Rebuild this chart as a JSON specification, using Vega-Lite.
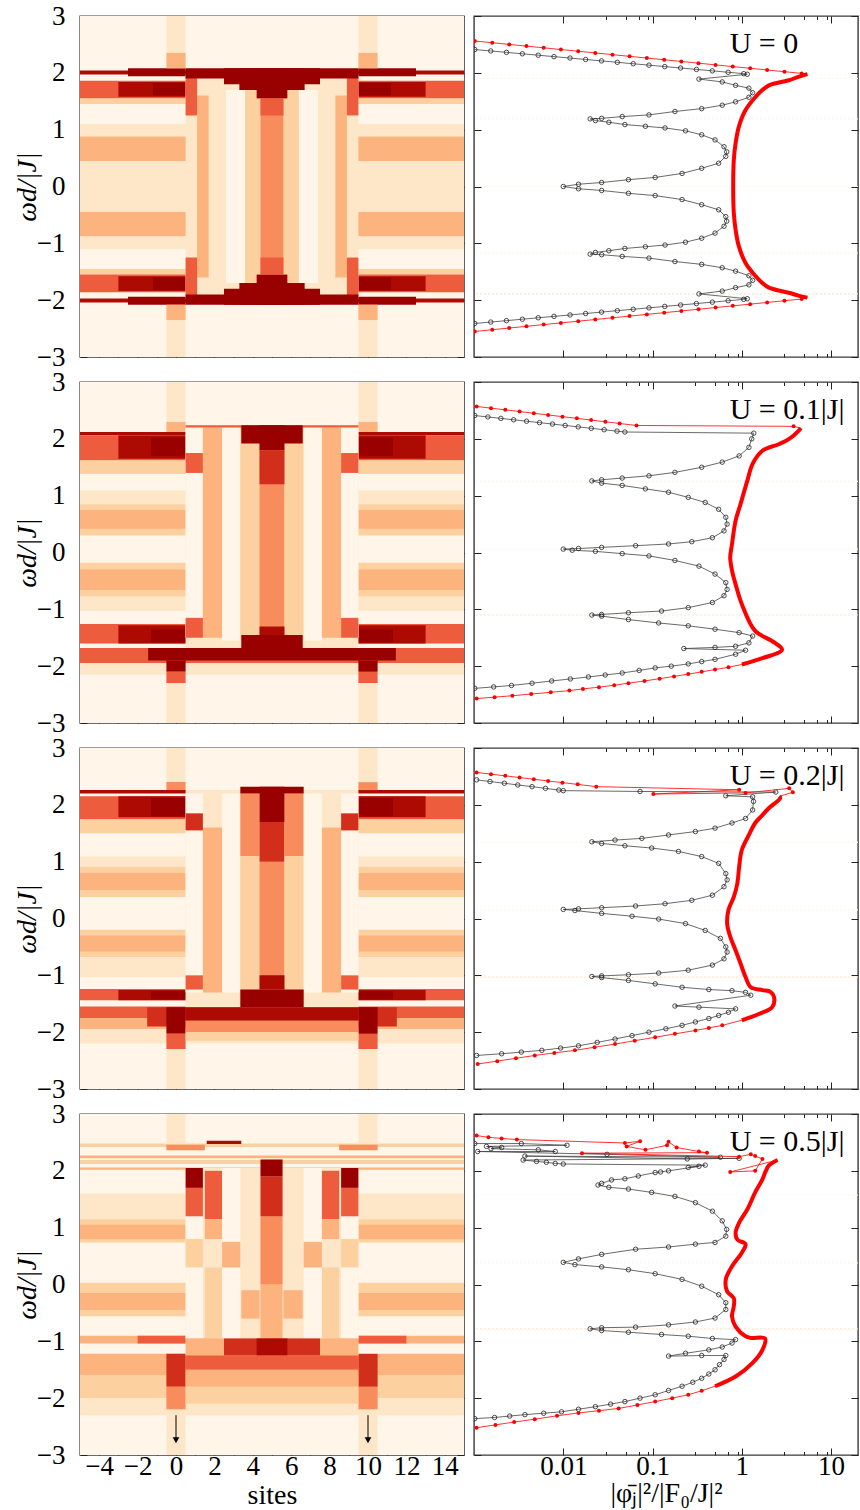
{
"$schema": "https://vega.github.io/schema/vega-lite/v6.json",
"background": "white",
"padding": {"left": 12, "top": 1, "right": 0, "bottom": 0},
"config": {
  "view": {"stroke": "#3a3a3a", "strokeWidth": 1.4},
  "axis": {"domain": false, "grid": false, "labels": false, "labelOverlap": false, "labelFlush": false, "tickColor": "#222", "tickWidth": 1, "tickSize": -7, "labelFont": "Liberation Serif", "labelFontSize": 27, "labelColor": "#000", "titleFont": "Liberation Serif", "titleFontSize": 28, "titleFontWeight": "normal", "titleColor": "#000"},
  "axisBottom": {"labelPadding": 5},
  "axisLeft": {"labelPadding": 22}
},
"datasets": {
"h1": [
{"s0":-5,"s1":15,"w0":-3,"w1":3,"v":0},
{"s0":-5,"s1":15,"w0":1.97,"w1":2.04,"v":7},
{"s0":-5,"s1":15,"w0":1.55,"w1":1.86,"v":5},
{"s0":-5,"s1":15,"w0":1.45,"w1":1.55,"v":2},
{"s0":-5,"s1":15,"w0":0.88,"w1":1.1,"v":1},
{"s0":-5,"s1":15,"w0":0.45,"w1":0.88,"v":3},
{"s0":-5,"s1":15,"w0":-0.45,"w1":0.45,"v":1},
{"s0":-5,"s1":15,"w0":-0.88,"w1":-0.45,"v":3},
{"s0":-5,"s1":15,"w0":-1.1,"w1":-0.88,"v":1},
{"s0":-5,"s1":15,"w0":-1.55,"w1":-1.45,"v":2},
{"s0":-5,"s1":15,"w0":-1.86,"w1":-1.55,"v":5},
{"s0":-5,"s1":15,"w0":-2.04,"w1":-1.97,"v":7},
{"s0":-3,"s1":0.5,"w0":1.58,"w1":1.84,"v":7},
{"s0":9.5,"s1":13,"w0":1.58,"w1":1.84,"v":7},
{"s0":-3,"s1":0.5,"w0":-1.84,"w1":-1.58,"v":7},
{"s0":9.5,"s1":13,"w0":-1.84,"w1":-1.58,"v":7},
{"s0":-1.2,"s1":0.5,"w0":1.6,"w1":1.82,"v":8},
{"s0":9.5,"s1":11.2,"w0":1.6,"w1":1.82,"v":8},
{"s0":-1.2,"s1":0.5,"w0":-1.82,"w1":-1.6,"v":8},
{"s0":9.5,"s1":11.2,"w0":-1.82,"w1":-1.6,"v":8},
{"s0":-2.5,"s1":0.5,"w0":1.94,"w1":2.08,"v":8},
{"s0":9.5,"s1":12.5,"w0":1.94,"w1":2.08,"v":8},
{"s0":-2.5,"s1":0.5,"w0":-2.08,"w1":-1.94,"v":8},
{"s0":9.5,"s1":12.5,"w0":-2.08,"w1":-1.94,"v":8},
{"s0":-0.5,"s1":0.5,"w0":2.08,"w1":2.35,"v":3},
{"s0":9.5,"s1":10.5,"w0":2.08,"w1":2.35,"v":3},
{"s0":-0.5,"s1":0.5,"w0":-2.35,"w1":-2.08,"v":3},
{"s0":9.5,"s1":10.5,"w0":-2.35,"w1":-2.08,"v":3},
{"s0":-0.5,"s1":0.5,"w0":2.35,"w1":3,"v":1},
{"s0":9.5,"s1":10.5,"w0":2.35,"w1":3,"v":1},
{"s0":-0.5,"s1":0.5,"w0":-3,"w1":-2.35,"v":1},
{"s0":9.5,"s1":10.5,"w0":-3,"w1":-2.35,"v":1},
{"s0":0.5,"s1":9.5,"w0":-1.94,"w1":1.94,"v":1},
{"s0":1.1,"s1":1.7,"w0":-1.6,"w1":1.6,"v":3},
{"s0":2.6,"s1":3.6,"w0":-1.7,"w1":1.7,"v":0},
{"s0":3.6,"s1":4.4,"w0":-1.7,"w1":1.7,"v":2},
{"s0":4.4,"s1":5.6,"w0":-1.7,"w1":1.7,"v":4},
{"s0":5.6,"s1":6.4,"w0":-1.7,"w1":1.7,"v":2},
{"s0":6.4,"s1":7.4,"w0":-1.7,"w1":1.7,"v":0},
{"s0":8.3,"s1":8.9,"w0":-1.6,"w1":1.6,"v":3},
{"s0":0.5,"s1":1.1,"w0":1.25,"w1":1.94,"v":5},
{"s0":8.9,"s1":9.5,"w0":1.25,"w1":1.94,"v":5},
{"s0":0.5,"s1":1.1,"w0":-1.94,"w1":-1.25,"v":5},
{"s0":8.9,"s1":9.5,"w0":-1.94,"w1":-1.25,"v":5},
{"s0":0.5,"s1":9.5,"w0":1.9,"w1":2.08,"v":8},
{"s0":2.5,"s1":7.5,"w0":1.8,"w1":2.08,"v":8},
{"s0":3.3,"s1":6.7,"w0":1.7,"w1":2.08,"v":8},
{"s0":4.2,"s1":5.8,"w0":1.55,"w1":2.08,"v":8},
{"s0":4.4,"s1":5.6,"w0":1.25,"w1":1.55,"v":5},
{"s0":0.5,"s1":9.5,"w0":-2.08,"w1":-1.9,"v":8},
{"s0":2.5,"s1":7.5,"w0":-2.08,"w1":-1.8,"v":8},
{"s0":3.3,"s1":6.7,"w0":-2.08,"w1":-1.7,"v":8},
{"s0":4.2,"s1":5.8,"w0":-2.08,"w1":-1.55,"v":8},
{"s0":4.4,"s1":5.6,"w0":-1.55,"w1":-1.25,"v":5}
],
"h2": [
{"s0":-5,"s1":15,"w0":-3,"w1":3,"v":0},
{"s0":-5,"s1":15,"w0":2.06,"w1":2.12,"v":7},
{"s0":-5,"s1":15,"w0":1.62,"w1":2.06,"v":5},
{"s0":-5,"s1":15,"w0":1.38,"w1":1.62,"v":2},
{"s0":-5,"s1":15,"w0":0.85,"w1":1.09,"v":1},
{"s0":-5,"s1":15,"w0":0.3,"w1":0.85,"v":2},
{"s0":-5,"s1":15,"w0":0.42,"w1":0.75,"v":3},
{"s0":-5,"s1":15,"w0":-0.78,"w1":-0.18,"v":2},
{"s0":-5,"s1":15,"w0":-0.66,"w1":-0.3,"v":3},
{"s0":-5,"s1":15,"w0":-1.03,"w1":-0.78,"v":1},
{"s0":-5,"s1":15,"w0":-1.6,"w1":-1.26,"v":5},
{"s0":-5,"s1":15,"w0":-1.95,"w1":-1.68,"v":5},
{"s0":-5,"s1":15,"w0":-2.15,"w1":-1.95,"v":1},
{"s0":-3,"s1":0.5,"w0":1.65,"w1":2.06,"v":7},
{"s0":9.5,"s1":13,"w0":1.65,"w1":2.06,"v":7},
{"s0":-1.3,"s1":0.5,"w0":1.7,"w1":2.02,"v":8},
{"s0":9.5,"s1":11.3,"w0":1.7,"w1":2.02,"v":8},
{"s0":-3,"s1":0.5,"w0":-1.6,"w1":-1.28,"v":7},
{"s0":9.5,"s1":13,"w0":-1.6,"w1":-1.28,"v":7},
{"s0":-1.3,"s1":0.5,"w0":-1.58,"w1":-1.35,"v":8},
{"s0":9.5,"s1":11.3,"w0":-1.58,"w1":-1.35,"v":8},
{"s0":-1.45,"s1":11.45,"w0":-1.9,"w1":-1.68,"v":8},
{"s0":-0.5,"s1":0.5,"w0":-2.1,"w1":-1.9,"v":8},
{"s0":9.5,"s1":10.5,"w0":-2.1,"w1":-1.9,"v":8},
{"s0":-0.5,"s1":0.5,"w0":-2.3,"w1":-2.1,"v":5},
{"s0":9.5,"s1":10.5,"w0":-2.3,"w1":-2.1,"v":5},
{"s0":-0.5,"s1":0.5,"w0":-3,"w1":-2.3,"v":1},
{"s0":9.5,"s1":10.5,"w0":-3,"w1":-2.3,"v":1},
{"s0":-0.5,"s1":0.5,"w0":2.12,"w1":2.3,"v":3},
{"s0":9.5,"s1":10.5,"w0":2.12,"w1":2.3,"v":3},
{"s0":-0.5,"s1":0.5,"w0":2.3,"w1":3,"v":1},
{"s0":9.5,"s1":10.5,"w0":2.3,"w1":3,"v":1},
{"s0":0.5,"s1":9.5,"w0":-1.68,"w1":2.24,"v":1},
{"s0":0.5,"s1":1.4,"w0":-1.5,"w1":2.2,"v":0},
{"s0":1.4,"s1":2.4,"w0":-1.5,"w1":2.2,"v":3},
{"s0":2.4,"s1":3.35,"w0":-1.55,"w1":2.2,"v":0},
{"s0":3.35,"s1":4.35,"w0":-1.55,"w1":2.2,"v":2},
{"s0":4.35,"s1":5.65,"w0":-1.55,"w1":2.2,"v":4},
{"s0":5.65,"s1":6.65,"w0":-1.55,"w1":2.2,"v":2},
{"s0":6.65,"s1":7.6,"w0":-1.55,"w1":2.2,"v":0},
{"s0":7.6,"s1":8.6,"w0":-1.5,"w1":2.2,"v":3},
{"s0":8.6,"s1":9.5,"w0":-1.5,"w1":2.2,"v":0},
{"s0":0.5,"s1":1.4,"w0":1.4,"w1":1.75,"v":5},
{"s0":8.6,"s1":9.5,"w0":1.4,"w1":1.75,"v":5},
{"s0":0.5,"s1":1.4,"w0":-1.5,"w1":-1.15,"v":5},
{"s0":8.6,"s1":9.5,"w0":-1.5,"w1":-1.15,"v":5},
{"s0":0.5,"s1":9.5,"w0":2.2,"w1":2.24,"v":5},
{"s0":3.4,"s1":6.6,"w0":1.92,"w1":2.24,"v":8},
{"s0":4.35,"s1":5.65,"w0":1.8,"w1":2.24,"v":8},
{"s0":4.35,"s1":5.65,"w0":1.2,"w1":1.8,"v":6},
{"s0":3.4,"s1":6.6,"w0":-1.68,"w1":-1.45,"v":8},
{"s0":4.35,"s1":5.65,"w0":-1.45,"w1":-1.3,"v":7}
],
"h3": [
{"s0":-5,"s1":15,"w0":-3,"w1":3,"v":0},
{"s0":-5,"s1":15,"w0":2.2,"w1":2.26,"v":7},
{"s0":-5,"s1":15,"w0":1.74,"w1":2.15,"v":5},
{"s0":-5,"s1":15,"w0":1.5,"w1":1.74,"v":2},
{"s0":-5,"s1":15,"w0":0.91,"w1":1.09,"v":1},
{"s0":-5,"s1":15,"w0":0.38,"w1":0.91,"v":2},
{"s0":-5,"s1":15,"w0":0.5,"w1":0.8,"v":3},
{"s0":-5,"s1":15,"w0":-0.68,"w1":-0.2,"v":2},
{"s0":-5,"s1":15,"w0":-0.58,"w1":-0.3,"v":3},
{"s0":-5,"s1":15,"w0":-1.03,"w1":-0.68,"v":1},
{"s0":-5,"s1":15,"w0":-1.44,"w1":-1.24,"v":5},
{"s0":-5,"s1":15,"w0":-1.75,"w1":-1.55,"v":5},
{"s0":-5,"s1":15,"w0":-1.95,"w1":-1.75,"v":3},
{"s0":-5,"s1":15,"w0":-2.2,"w1":-1.95,"v":1},
{"s0":-3,"s1":0.5,"w0":1.78,"w1":2.15,"v":7},
{"s0":9.5,"s1":13,"w0":1.78,"w1":2.15,"v":7},
{"s0":-1.3,"s1":0.5,"w0":1.8,"w1":2.12,"v":8},
{"s0":9.5,"s1":11.3,"w0":1.8,"w1":2.12,"v":8},
{"s0":-3,"s1":0.5,"w0":-1.44,"w1":-1.26,"v":7},
{"s0":9.5,"s1":13,"w0":-1.44,"w1":-1.26,"v":7},
{"s0":-1.3,"s1":0.5,"w0":-1.42,"w1":-1.28,"v":8},
{"s0":9.5,"s1":11.3,"w0":-1.42,"w1":-1.28,"v":8},
{"s0":-1.5,"s1":0.5,"w0":-1.9,"w1":-1.56,"v":6},
{"s0":9.5,"s1":11.5,"w0":-1.9,"w1":-1.56,"v":6},
{"s0":-0.5,"s1":0.5,"w0":-2.03,"w1":-1.56,"v":8},
{"s0":9.5,"s1":10.5,"w0":-2.03,"w1":-1.56,"v":8},
{"s0":-0.5,"s1":0.5,"w0":-2.3,"w1":-2.03,"v":5},
{"s0":9.5,"s1":10.5,"w0":-2.3,"w1":-2.03,"v":5},
{"s0":-0.5,"s1":0.5,"w0":-3,"w1":-2.3,"v":1},
{"s0":9.5,"s1":10.5,"w0":-3,"w1":-2.3,"v":1},
{"s0":-0.5,"s1":0.5,"w0":2.26,"w1":2.4,"v":4},
{"s0":9.5,"s1":10.5,"w0":2.26,"w1":2.4,"v":4},
{"s0":-0.5,"s1":0.5,"w0":2.4,"w1":3,"v":1},
{"s0":9.5,"s1":10.5,"w0":2.4,"w1":3,"v":1},
{"s0":0.5,"s1":9.5,"w0":-1.56,"w1":2.26,"v":1},
{"s0":0.5,"s1":1.4,"w0":-1.3,"w1":2.2,"v":0},
{"s0":1.4,"s1":2.4,"w0":-1.3,"w1":1.6,"v":3},
{"s0":2.4,"s1":3.35,"w0":-1.3,"w1":2.2,"v":0},
{"s0":3.35,"s1":4.35,"w0":-1.3,"w1":1.1,"v":2},
{"s0":3.35,"s1":4.35,"w0":1.1,"w1":2.2,"v":4},
{"s0":4.35,"s1":5.65,"w0":-1.3,"w1":1.0,"v":4},
{"s0":4.35,"s1":5.65,"w0":1.0,"w1":1.7,"v":6},
{"s0":5.65,"s1":6.65,"w0":-1.3,"w1":1.1,"v":2},
{"s0":5.65,"s1":6.65,"w0":1.1,"w1":2.2,"v":4},
{"s0":6.65,"s1":7.6,"w0":-1.3,"w1":2.2,"v":0},
{"s0":7.6,"s1":8.6,"w0":-1.3,"w1":1.6,"v":3},
{"s0":8.6,"s1":9.5,"w0":-1.3,"w1":2.2,"v":0},
{"s0":0.5,"s1":1.4,"w0":1.55,"w1":1.85,"v":6},
{"s0":8.6,"s1":9.5,"w0":1.55,"w1":1.85,"v":6},
{"s0":0.5,"s1":1.4,"w0":-1.25,"w1":-1.0,"v":5},
{"s0":8.6,"s1":9.5,"w0":-1.25,"w1":-1.0,"v":5},
{"s0":4.35,"s1":5.65,"w0":1.7,"w1":2.32,"v":8},
{"s0":3.35,"s1":6.65,"w0":2.2,"w1":2.32,"v":8},
{"s0":3.35,"s1":6.65,"w0":-1.56,"w1":-1.25,"v":8},
{"s0":4.35,"s1":5.65,"w0":-1.25,"w1":-1.0,"v":7},
{"s0":0.5,"s1":9.5,"w0":-1.8,"w1":-1.56,"v":7},
{"s0":0.5,"s1":9.5,"w0":-2.0,"w1":-1.8,"v":4},
{"s0":0.5,"s1":9.5,"w0":-2.15,"w1":-2.0,"v":2}
],
"h4": [
{"s0":-5,"s1":15,"w0":-3,"w1":3,"v":0},
{"s0":-5,"s1":15,"w0":2.42,"w1":2.48,"v":2},
{"s0":-5,"s1":15,"w0":2.22,"w1":2.27,"v":3},
{"s0":-5,"s1":15,"w0":2.12,"w1":2.19,"v":2},
{"s0":-5,"s1":15,"w0":2.02,"w1":2.06,"v":3},
{"s0":-5,"s1":15,"w0":1.15,"w1":1.6,"v":1},
{"s0":-5,"s1":15,"w0":0.74,"w1":1.15,"v":2},
{"s0":-5,"s1":15,"w0":0.8,"w1":1.05,"v":3},
{"s0":-5,"s1":15,"w0":-0.56,"w1":0.03,"v":2},
{"s0":-5,"s1":15,"w0":-0.45,"w1":-0.15,"v":3},
{"s0":-5,"s1":15,"w0":-1.04,"w1":-0.9,"v":3},
{"s0":-5,"s1":15,"w0":-1.6,"w1":-1.22,"v":3},
{"s0":-5,"s1":15,"w0":-2.0,"w1":-1.6,"v":2},
{"s0":-5,"s1":15,"w0":-2.3,"w1":-2.0,"v":1},
{"s0":-2,"s1":0.5,"w0":-1.04,"w1":-0.9,"v":5},
{"s0":9.5,"s1":12,"w0":-1.04,"w1":-0.9,"v":5},
{"s0":-0.5,"s1":0.5,"w0":-1.8,"w1":-1.22,"v":6},
{"s0":9.5,"s1":10.5,"w0":-1.8,"w1":-1.22,"v":6},
{"s0":-0.5,"s1":0.5,"w0":-2.2,"w1":-1.8,"v":4},
{"s0":9.5,"s1":10.5,"w0":-2.2,"w1":-1.8,"v":4},
{"s0":-0.5,"s1":0.5,"w0":-3,"w1":-2.2,"v":1},
{"s0":9.5,"s1":10.5,"w0":-3,"w1":-2.2,"v":1},
{"s0":-0.5,"s1":0.5,"w0":2.48,"w1":3,"v":1},
{"s0":9.5,"s1":10.5,"w0":2.48,"w1":3,"v":1},
{"s0":-0.5,"s1":1.5,"w0":2.36,"w1":2.46,"v":4},
{"s0":8.5,"s1":10.5,"w0":2.36,"w1":2.46,"v":4},
{"s0":1.6,"s1":3.4,"w0":2.47,"w1":2.53,"v":7},
{"s0":0.5,"s1":9.5,"w0":-0.95,"w1":2.05,"v":1},
{"s0":0.5,"s1":1.4,"w0":-0.95,"w1":1.7,"v":0},
{"s0":0.5,"s1":1.4,"w0":1.7,"w1":2.05,"v":8},
{"s0":0.5,"s1":1.4,"w0":1.2,"w1":1.7,"v":5},
{"s0":0.5,"s1":1.4,"w0":0.3,"w1":0.8,"v":2},
{"s0":1.5,"s1":2.4,"w0":1.15,"w1":2.0,"v":5},
{"s0":1.5,"s1":2.4,"w0":0.8,"w1":1.15,"v":3},
{"s0":1.5,"s1":2.4,"w0":-0.95,"w1":0.3,"v":2},
{"s0":2.4,"s1":3.35,"w0":-0.95,"w1":2.05,"v":0},
{"s0":2.4,"s1":3.35,"w0":0.3,"w1":0.75,"v":3},
{"s0":3.4,"s1":4.35,"w0":-0.6,"w1":-0.1,"v":3},
{"s0":4.4,"s1":5.55,"w0":-0.95,"w1":0.0,"v":3},
{"s0":4.4,"s1":5.55,"w0":0.0,"w1":1.2,"v":4},
{"s0":4.4,"s1":5.55,"w0":1.2,"w1":1.9,"v":6},
{"s0":4.4,"s1":5.55,"w0":1.9,"w1":2.2,"v":8},
{"s0":5.6,"s1":6.6,"w0":-0.6,"w1":-0.1,"v":3},
{"s0":6.65,"s1":7.6,"w0":-0.95,"w1":2.05,"v":0},
{"s0":6.65,"s1":7.6,"w0":0.3,"w1":0.75,"v":3},
{"s0":7.6,"s1":8.5,"w0":1.15,"w1":2.0,"v":5},
{"s0":7.6,"s1":8.5,"w0":0.8,"w1":1.15,"v":3},
{"s0":7.6,"s1":8.5,"w0":-0.95,"w1":0.3,"v":2},
{"s0":8.6,"s1":9.5,"w0":-0.95,"w1":1.7,"v":0},
{"s0":8.6,"s1":9.5,"w0":1.7,"w1":2.05,"v":8},
{"s0":8.6,"s1":9.5,"w0":1.2,"w1":1.7,"v":5},
{"s0":8.6,"s1":9.5,"w0":0.3,"w1":0.8,"v":2},
{"s0":0.5,"s1":9.5,"w0":-1.25,"w1":-0.95,"v":3},
{"s0":2.5,"s1":7.5,"w0":-1.25,"w1":-0.95,"v":6},
{"s0":4.2,"s1":5.8,"w0":-1.25,"w1":-0.95,"v":7},
{"s0":0.5,"s1":9.5,"w0":-1.5,"w1":-1.25,"v":5},
{"s0":0.5,"s1":9.5,"w0":-1.8,"w1":-1.5,"v":3},
{"s0":0.5,"s1":9.5,"w0":-2.1,"w1":-1.8,"v":2}
],
"k1": [{"w":2.41,"x":0.00102},{"w":2.385,"x":0.00154},{"w":2.36,"x":0.00231},{"w":2.335,"x":0.00348},{"w":2.31,"x":0.00524},{"w":2.285,"x":0.00787},{"w":2.26,"x":0.0119},{"w":2.235,"x":0.0178},{"w":2.21,"x":0.0268},{"w":2.185,"x":0.0403},{"w":2.16,"x":0.0607},{"w":2.135,"x":0.0912},{"w":2.11,"x":0.137},{"w":2.085,"x":0.206},{"w":2.06,"x":0.31},{"w":2.035,"x":0.467},{"w":2.01,"x":0.702},{"w":1.985,"x":1.05},{"w":1.975,"x":1.15},{"w":1.89,"x":0.331},{"w":1.84,"x":0.603},{"w":1.78,"x":0.851},{"w":1.73,"x":1.2},{"w":1.65,"x":1.32},{"w":1.57,"x":1.2},{"w":1.49,"x":0.851},{"w":1.43,"x":0.603},{"w":1.37,"x":0.355},{"w":1.32,"x":0.178},{"w":1.26,"x":0.0912},{"w":1.23,"x":0.0457},{"w":1.2,"x":0.0269},{"w":1.19,"x":0.02},{"w":1.16,"x":0.0229},{"w":1.13,"x":0.0324},{"w":1.09,"x":0.049},{"w":1.06,"x":0.0832},{"w":1.03,"x":0.138},{"w":0.98,"x":0.234},{"w":0.91,"x":0.355},{"w":0.82,"x":0.501},{"w":0.7,"x":0.631},{"w":0.61,"x":0.676},{"w":0.53,"x":0.661},{"w":0.41,"x":0.55},{"w":0.32,"x":0.355},{"w":0.23,"x":0.214},{"w":0.16,"x":0.107},{"w":0.12,"x":0.0537},{"w":0.07,"x":0.0269},{"w":0.04,"x":0.0148},{"w":0,"x":0.01},{"w":-0.04,"x":0.0148},{"w":-0.07,"x":0.0269},{"w":-0.12,"x":0.0537},{"w":-0.16,"x":0.107},{"w":-0.23,"x":0.214},{"w":-0.32,"x":0.355},{"w":-0.41,"x":0.55},{"w":-0.53,"x":0.661},{"w":-0.61,"x":0.676},{"w":-0.7,"x":0.631},{"w":-0.82,"x":0.501},{"w":-0.91,"x":0.355},{"w":-0.98,"x":0.234},{"w":-1.03,"x":0.138},{"w":-1.06,"x":0.0832},{"w":-1.09,"x":0.049},{"w":-1.13,"x":0.0324},{"w":-1.16,"x":0.0229},{"w":-1.19,"x":0.02},{"w":-1.2,"x":0.0269},{"w":-1.23,"x":0.0457},{"w":-1.26,"x":0.0912},{"w":-1.32,"x":0.178},{"w":-1.37,"x":0.355},{"w":-1.43,"x":0.603},{"w":-1.49,"x":0.851},{"w":-1.57,"x":1.2},{"w":-1.65,"x":1.32},{"w":-1.73,"x":1.2},{"w":-1.78,"x":0.851},{"w":-1.84,"x":0.603},{"w":-1.89,"x":0.331},{"w":-1.975,"x":1.15},{"w":-1.985,"x":1.05},{"w":-2.01,"x":0.702},{"w":-2.035,"x":0.467},{"w":-2.06,"x":0.31},{"w":-2.085,"x":0.206},{"w":-2.11,"x":0.137},{"w":-2.135,"x":0.0912},{"w":-2.16,"x":0.0607},{"w":-2.185,"x":0.0403},{"w":-2.21,"x":0.0268},{"w":-2.235,"x":0.0178},{"w":-2.26,"x":0.0119},{"w":-2.285,"x":0.00787},{"w":-2.31,"x":0.00524},{"w":-2.335,"x":0.00348},{"w":-2.36,"x":0.00231},{"w":-2.385,"x":0.00154},{"w":-2.41,"x":0.00102}],
"r1": [{"w":2.56,"x":0.00102},{"w":2.53,"x":0.0016},{"w":2.5,"x":0.00248},{"w":2.47,"x":0.00387},{"w":2.44,"x":0.00603},{"w":2.41,"x":0.0094},{"w":2.38,"x":0.0147},{"w":2.35,"x":0.0228},{"w":2.32,"x":0.0356},{"w":2.29,"x":0.0553},{"w":2.26,"x":0.0863},{"w":2.23,"x":0.135},{"w":2.2,"x":0.21},{"w":2.17,"x":0.327},{"w":2.14,"x":0.508},{"w":2.11,"x":0.792},{"w":2.08,"x":1.24},{"w":2.05,"x":1.92},{"w":2.02,"x":3.0},{"w":1.99,"x":4.68},{"w":1.977,"x":5.42,"b":1},{"w":1.93,"x":4.3,"b":1},{"w":1.87,"x":3.37,"b":1},{"w":1.78,"x":2.01,"b":1},{"w":1.68,"x":1.65,"b":1},{"w":1.58,"x":1.43,"b":1},{"w":1.345,"x":1.1,"b":1},{"w":1.05,"x":0.925,"b":1},{"w":0.76,"x":0.851,"b":1},{"w":0.47,"x":0.813,"b":1},{"w":0,"x":0.8,"b":1},{"w":-0.47,"x":0.813,"b":1},{"w":-0.76,"x":0.851,"b":1},{"w":-1.05,"x":0.925,"b":1},{"w":-1.345,"x":1.1,"b":1},{"w":-1.58,"x":1.43,"b":1},{"w":-1.68,"x":1.65,"b":1},{"w":-1.78,"x":2.01,"b":1},{"w":-1.87,"x":3.37,"b":1},{"w":-1.92,"x":4.3,"b":1},{"w":-1.955,"x":5.42,"b":1},{"w":-1.98,"x":4.68},{"w":-2.01,"x":3.0},{"w":-2.04,"x":1.92},{"w":-2.07,"x":1.24},{"w":-2.1,"x":0.792},{"w":-2.13,"x":0.508},{"w":-2.16,"x":0.327},{"w":-2.19,"x":0.21},{"w":-2.22,"x":0.135},{"w":-2.25,"x":0.0863},{"w":-2.28,"x":0.0553},{"w":-2.31,"x":0.0356},{"w":-2.34,"x":0.0228},{"w":-2.37,"x":0.0147},{"w":-2.4,"x":0.0094},{"w":-2.43,"x":0.00603},{"w":-2.46,"x":0.00387},{"w":-2.49,"x":0.00248},{"w":-2.52,"x":0.0016},{"w":-2.55,"x":0.00102}],
"d1": [{"w":1.9,"t":"a"},{"w":1.19,"t":"a"},{"w":0,"t":"a"},{"w":-1.17,"t":"a"},{"w":-1.89,"t":"b"}],
"k2": [{"w":2.41,"x":0.00102},{"w":2.385,"x":0.00143},{"w":2.36,"x":0.002},{"w":2.335,"x":0.00278},{"w":2.31,"x":0.00388},{"w":2.285,"x":0.00542},{"w":2.26,"x":0.00757},{"w":2.235,"x":0.0105},{"w":2.21,"x":0.0147},{"w":2.185,"x":0.0206},{"w":2.16,"x":0.0287},{"w":2.135,"x":0.04},{"w":2.12,"x":0.049},{"w":2.1,"x":1.36},{"w":2.0,"x":1.29},{"w":1.85,"x":1.2},{"w":1.7,"x":0.933},{"w":1.59,"x":0.603},{"w":1.5,"x":0.355},{"w":1.41,"x":0.178},{"w":1.35,"x":0.0912},{"w":1.31,"x":0.0457},{"w":1.28,"x":0.0269},{"w":1.26,"x":0.0209},{"w":1.22,"x":0.0269},{"w":1.18,"x":0.0457},{"w":1.12,"x":0.0832},{"w":1.06,"x":0.151},{"w":0.97,"x":0.251},{"w":0.88,"x":0.389},{"w":0.76,"x":0.55},{"w":0.62,"x":0.661},{"w":0.5,"x":0.684},{"w":0.38,"x":0.631},{"w":0.26,"x":0.468},{"w":0.19,"x":0.275},{"w":0.15,"x":0.151},{"w":0.12,"x":0.0646},{"w":0.09,"x":0.0269},{"w":0.07,"x":0.0148},{"w":0.06,"x":0.01},{"w":0.04,"x":0.0126},{"w":0.02,"x":0.0229},{"w":-0.02,"x":0.0457},{"w":-0.06,"x":0.0912},{"w":-0.14,"x":0.178},{"w":-0.24,"x":0.331},{"w":-0.38,"x":0.501},{"w":-0.53,"x":0.661},{"w":-0.65,"x":0.684},{"w":-0.76,"x":0.631},{"w":-0.88,"x":0.468},{"w":-0.97,"x":0.251},{"w":-1.03,"x":0.126},{"w":-1.06,"x":0.0537},{"w":-1.09,"x":0.0269},{"w":-1.1,"x":0.0209},{"w":-1.12,"x":0.0269},{"w":-1.18,"x":0.0537},{"w":-1.24,"x":0.117},{"w":-1.29,"x":0.251},{"w":-1.35,"x":0.501},{"w":-1.41,"x":0.933},{"w":-1.47,"x":1.32},{"w":-1.59,"x":1.2},{"w":-1.65,"x":0.851},{"w":-1.67,"x":0.501},{"w":-1.69,"x":0.224},{"w":-1.72,"x":1.1},{"w":-1.79,"x":0.851},{"w":-1.88,"x":0.501},{"w":-1.92,"x":0.355},{"w":-1.96,"x":0.251},{"w":-2.0,"x":0.162},{"w":-2.03,"x":0.107},{"w":-2.075,"x":0.0708},{"w":-2.12,"x":0.0457},{"w":-2.155,"x":0.0295},{"w":-2.19,"x":0.0191},{"w":-2.225,"x":0.012},{"w":-2.26,"x":0.00741},{"w":-2.3,"x":0.00447},{"w":-2.34,"x":0.00263},{"w":-2.365,"x":0.00166},{"w":-2.39,"x":0.00102}],
"r2": [{"w":2.57,"x":0.00107},{"w":2.54,"x":0.00155},{"w":2.51,"x":0.00224},{"w":2.48,"x":0.00324},{"w":2.45,"x":0.00468},{"w":2.42,"x":0.00676},{"w":2.39,"x":0.0098},{"w":2.36,"x":0.0142},{"w":2.33,"x":0.0205},{"w":2.3,"x":0.0296},{"w":2.27,"x":0.0428},{"w":2.235,"x":0.0661},{"w":2.22,"x":3.8},{"w":2.19,"x":4.57,"b":1},{"w":2.15,"x":4.37,"b":1},{"w":2.0,"x":3.39,"b":1},{"w":1.91,"x":2.63,"b":1},{"w":1.79,"x":1.7,"b":1},{"w":1.56,"x":1.32,"b":1},{"w":1.26,"x":1.15,"b":1},{"w":0.85,"x":0.966,"b":1},{"w":0.56,"x":0.851,"b":1},{"w":0.15,"x":0.776,"b":1},{"w":-0.09,"x":0.741,"b":1},{"w":-0.32,"x":0.776,"b":1},{"w":-0.56,"x":0.851,"b":1},{"w":-0.91,"x":1.0,"b":1},{"w":-1.38,"x":1.41,"b":1},{"w":-1.56,"x":2.19,"b":1},{"w":-1.71,"x":2.82,"b":1},{"w":-1.86,"x":1.7,"b":1},{"w":-1.97,"x":1.0,"b":1},{"w":-2.02,"x":0.708},{"w":-2.06,"x":0.501},{"w":-2.1,"x":0.355},{"w":-2.14,"x":0.251},{"w":-2.18,"x":0.174},{"w":-2.22,"x":0.12},{"w":-2.26,"x":0.0813},{"w":-2.3,"x":0.0537},{"w":-2.335,"x":0.0372},{"w":-2.37,"x":0.0251},{"w":-2.4,"x":0.0166},{"w":-2.43,"x":0.0117},{"w":-2.46,"x":0.00724},{"w":-2.49,"x":0.00437},{"w":-2.52,"x":0.00269},{"w":-2.545,"x":0.0017},{"w":-2.57,"x":0.00107}],
"d2": [{"w":1.25,"t":"a"},{"w":0.06,"t":"a"},{"w":-1.1,"t":"b"}],
"k3": [{"w":2.44,"x":0.00107},{"w":2.41,"x":0.00151},{"w":2.38,"x":0.00219},{"w":2.35,"x":0.00309},{"w":2.32,"x":0.00447},{"w":2.29,"x":0.00631},{"w":2.26,"x":0.00891},{"w":2.25,"x":0.01},{"w":2.235,"x":0.0724},{"w":2.225,"x":2.4},{"w":2.16,"x":0.661},{"w":2.14,"x":1.32},{"w":2.06,"x":1.35},{"w":1.91,"x":1.32},{"w":1.76,"x":1.1},{"w":1.68,"x":0.776},{"w":1.59,"x":0.501},{"w":1.53,"x":0.302},{"w":1.47,"x":0.151},{"w":1.41,"x":0.0759},{"w":1.38,"x":0.038},{"w":1.35,"x":0.0209},{"w":1.32,"x":0.0269},{"w":1.28,"x":0.049},{"w":1.24,"x":0.0977},{"w":1.18,"x":0.195},{"w":1.09,"x":0.355},{"w":0.97,"x":0.55},{"w":0.79,"x":0.661},{"w":0.68,"x":0.684},{"w":0.56,"x":0.631},{"w":0.41,"x":0.468},{"w":0.32,"x":0.275},{"w":0.26,"x":0.138},{"w":0.22,"x":0.0646},{"w":0.19,"x":0.0269},{"w":0.17,"x":0.0148},{"w":0.16,"x":0.01},{"w":0.14,"x":0.0135},{"w":0.09,"x":0.0269},{"w":0.04,"x":0.0589},{"w":-0.01,"x":0.117},{"w":-0.09,"x":0.234},{"w":-0.21,"x":0.389},{"w":-0.35,"x":0.575},{"w":-0.5,"x":0.661},{"w":-0.59,"x":0.684},{"w":-0.71,"x":0.631},{"w":-0.82,"x":0.468},{"w":-0.91,"x":0.251},{"w":-0.96,"x":0.117},{"w":-0.99,"x":0.0537},{"w":-1.01,"x":0.0269},{"w":-1.02,"x":0.0209},{"w":-1.04,"x":0.0269},{"w":-1.09,"x":0.0537},{"w":-1.15,"x":0.107},{"w":-1.21,"x":0.214},{"w":-1.25,"x":0.427},{"w":-1.27,"x":0.776},{"w":-1.3,"x":1.1},{"w":-1.35,"x":1.26},{"w":-1.54,"x":0.178},{"w":-1.56,"x":0.331},{"w":-1.59,"x":0.851},{"w":-1.65,"x":0.708},{"w":-1.705,"x":0.55},{"w":-1.76,"x":0.427},{"w":-1.82,"x":0.302},{"w":-1.88,"x":0.214},{"w":-1.94,"x":0.141},{"w":-2.0,"x":0.0912},{"w":-2.06,"x":0.0589},{"w":-2.12,"x":0.038},{"w":-2.18,"x":0.024},{"w":-2.24,"x":0.0148},{"w":-2.28,"x":0.00933},{"w":-2.32,"x":0.00575},{"w":-2.35,"x":0.00339},{"w":-2.38,"x":0.00204},{"w":-2.41,"x":0.00107}],
"r3": [{"w":2.57,"x":0.00107},{"w":2.54,"x":0.00155},{"w":2.51,"x":0.00224},{"w":2.48,"x":0.00324},{"w":2.45,"x":0.00468},{"w":2.42,"x":0.00676},{"w":2.39,"x":0.0098},{"w":2.36,"x":0.0145},{"w":2.32,"x":0.0234},{"w":2.265,"x":0.933},{"w":2.19,"x":0.102},{"w":2.21,"x":1.1},{"w":2.29,"x":3.39},{"w":2.22,"x":3.72},{"w":2.15,"x":2.63,"b":1},{"w":2.12,"x":2.69,"b":1},{"w":1.94,"x":2.0,"b":1},{"w":1.82,"x":1.7,"b":1},{"w":1.68,"x":1.41,"b":1},{"w":1.47,"x":1.2,"b":1},{"w":1.21,"x":1.0,"b":1},{"w":0.91,"x":0.933,"b":1},{"w":0.62,"x":0.891,"b":1},{"w":0.38,"x":0.813,"b":1},{"w":0.15,"x":0.708,"b":1},{"w":-0.09,"x":0.684,"b":1},{"w":-0.32,"x":0.741,"b":1},{"w":-0.56,"x":0.851,"b":1},{"w":-0.79,"x":0.966,"b":1},{"w":-1.03,"x":1.1,"b":1},{"w":-1.21,"x":1.26,"b":1},{"w":-1.26,"x":1.7,"b":1},{"w":-1.29,"x":2.09,"b":1},{"w":-1.38,"x":2.29,"b":1},{"w":-1.56,"x":2.19,"b":1},{"w":-1.68,"x":1.55,"b":1},{"w":-1.79,"x":1.0,"b":1},{"w":-1.88,"x":0.603},{"w":-1.925,"x":0.427},{"w":-1.97,"x":0.302},{"w":-2.03,"x":0.178},{"w":-2.09,"x":0.107},{"w":-2.15,"x":0.0631},{"w":-2.21,"x":0.038},{"w":-2.265,"x":0.0224},{"w":-2.32,"x":0.0135},{"w":-2.365,"x":0.00794},{"w":-2.41,"x":0.00479},{"w":-2.46,"x":0.00295},{"w":-2.51,"x":0.00182},{"w":-2.56,"x":0.0011}],
"d3": [{"w":1.34,"t":"a"},{"w":0.15,"t":"a"},{"w":-1.03,"t":"b"}],
"k4": [{"w":2.48,"x":0.00102},{"w":2.48,"x":0.00339},{"w":2.45,"x":0.011},{"w":2.43,"x":0.00138},{"w":2.41,"x":0.00204},{"w":2.39,"x":0.00155},{"w":2.37,"x":0.00525},{"w":2.34,"x":0.00813},{"w":2.34,"x":0.0011},{"w":2.29,"x":0.0309},{"w":2.24,"x":0.575},{"w":2.26,"x":0.00372},{"w":2.21,"x":0.245},{"w":2.22,"x":0.933},{"w":2.19,"x":0.00355},{"w":2.165,"x":0.00501},{"w":2.15,"x":0.00646},{"w":2.13,"x":0.00813},{"w":2.12,"x":0.01},{"w":2.1,"x":0.389},{"w":2.06,"x":0.251},{"w":2.08,"x":0.331},{"w":2.0,"x":0.151},{"w":1.98,"x":0.123},{"w":1.97,"x":0.107},{"w":1.91,"x":0.0692},{"w":1.86,"x":0.049},{"w":1.84,"x":0.0347},{"w":1.78,"x":0.0269},{"w":1.75,"x":0.0245},{"w":1.71,"x":0.0324},{"w":1.68,"x":0.0537},{"w":1.62,"x":0.0977},{"w":1.55,"x":0.178},{"w":1.44,"x":0.302},{"w":1.29,"x":0.468},{"w":1.12,"x":0.603},{"w":0.97,"x":0.676},{"w":0.85,"x":0.661},{"w":0.74,"x":0.501},{"w":0.71,"x":0.302},{"w":0.66,"x":0.151},{"w":0.62,"x":0.0646},{"w":0.53,"x":0.0269},{"w":0.45,"x":0.0148},{"w":0.39,"x":0.01},{"w":0.35,"x":0.0135},{"w":0.31,"x":0.0269},{"w":0.26,"x":0.0537},{"w":0.19,"x":0.107},{"w":0.09,"x":0.214},{"w":-0.03,"x":0.355},{"w":-0.18,"x":0.55},{"w":-0.32,"x":0.661},{"w":-0.44,"x":0.661},{"w":-0.59,"x":0.501},{"w":-0.66,"x":0.302},{"w":-0.71,"x":0.151},{"w":-0.75,"x":0.0646},{"w":-0.76,"x":0.0269},{"w":-0.78,"x":0.02},{"w":-0.81,"x":0.0269},{"w":-0.84,"x":0.0537},{"w":-0.88,"x":0.126},{"w":-0.91,"x":0.251},{"w":-0.95,"x":0.468},{"w":-0.97,"x":0.851},{"w":-1.03,"x":0.776},{"w":-1.1,"x":0.603},{"w":-1.15,"x":0.427},{"w":-1.21,"x":0.234},{"w":-1.26,"x":0.151},{"w":-1.25,"x":0.355},{"w":-1.25,"x":0.661},{"w":-1.32,"x":0.631},{"w":-1.41,"x":0.562},{"w":-1.5,"x":0.501},{"w":-1.575,"x":0.427},{"w":-1.65,"x":0.355},{"w":-1.72,"x":0.282},{"w":-1.79,"x":0.214},{"w":-1.865,"x":0.151},{"w":-1.94,"x":0.107},{"w":-2.0,"x":0.0724},{"w":-2.06,"x":0.049},{"w":-2.105,"x":0.0339},{"w":-2.15,"x":0.0229},{"w":-2.195,"x":0.0148},{"w":-2.24,"x":0.00955},{"w":-2.265,"x":0.00603},{"w":-2.29,"x":0.00372},{"w":-2.315,"x":0.00251},{"w":-2.34,"x":0.0017},{"w":-2.36,"x":0.00102}],
"r4": [{"w":2.62,"x":0.00107},{"w":2.59,"x":0.00145},{"w":2.57,"x":0.00204},{"w":2.55,"x":0.00302},{"w":2.49,"x":0.049},{"w":2.52,"x":0.0724},{"w":2.43,"x":0.0513},{"w":2.37,"x":0.0832},{"w":2.45,"x":0.145},{"w":2.51,"x":0.151},{"w":2.41,"x":0.186},{"w":2.34,"x":0.331},{"w":2.32,"x":0.407},{"w":2.31,"x":0.0162},{"w":2.25,"x":0.933},{"w":2.29,"x":1.26},{"w":2.26,"x":1.41},{"w":2.21,"x":1.7},{"w":2.0,"x":1.41},{"w":1.98,"x":0.741},{"w":2.19,"x":2.51,"b":1},{"w":2.09,"x":2.0,"b":1},{"w":2.0,"x":1.86,"b":1},{"w":1.97,"x":1.82,"b":1},{"w":1.85,"x":1.7,"b":1},{"w":1.62,"x":1.41,"b":1},{"w":1.32,"x":1.15,"b":1},{"w":1.09,"x":0.933,"b":1},{"w":0.91,"x":0.851,"b":1},{"w":0.79,"x":0.891,"b":1},{"w":0.71,"x":1.1,"b":1},{"w":0.56,"x":1.0,"b":1},{"w":0.32,"x":0.776,"b":1},{"w":0.09,"x":0.661,"b":1},{"w":-0.12,"x":0.684,"b":1},{"w":-0.24,"x":0.813,"b":1},{"w":-0.38,"x":0.813,"b":1},{"w":-0.56,"x":0.776,"b":1},{"w":-0.74,"x":0.851,"b":1},{"w":-0.91,"x":1.1,"b":1},{"w":-0.94,"x":1.26,"b":1},{"w":-0.95,"x":1.82,"b":1},{"w":-1.15,"x":1.7,"b":1},{"w":-1.38,"x":1.32,"b":1},{"w":-1.62,"x":0.851,"b":1},{"w":-1.79,"x":0.501,"b":1},{"w":-1.87,"x":0.355},{"w":-1.94,"x":0.251},{"w":-2.0,"x":0.166},{"w":-2.06,"x":0.107},{"w":-2.12,"x":0.0676},{"w":-2.18,"x":0.0417},{"w":-2.22,"x":0.0251},{"w":-2.26,"x":0.0148},{"w":-2.31,"x":0.00851},{"w":-2.37,"x":0.00479},{"w":-2.42,"x":0.00282},{"w":-2.47,"x":0.00174},{"w":-2.52,"x":0.00107}],
"d4": [{"w":1.57,"t":"a"},{"w":0.38,"t":"a"},{"w":-0.78,"t":"b"}]
},
"spacing": -4,
"vconcat": [
{"spacing": 10, "bounds": "flush", "hconcat": [
 {"width": 384, "height": 341, "data": {"name": "h1"},
  "layer": [
   {"mark": {"type": "rect", "clip": true},
    "encoding": {
     "x": {"field": "s0", "type": "quantitative", "scale": {"domain": [-5, 15], "nice": false}, "axis": {"orient": "bottom", "values": [-4,-3,-2,-1,0,1,2,3,4,5,6,7,8,9,10,11,12,13,14], "title": null}},
     "x2": {"field": "s1"},
     "y": {"field": "w0", "type": "quantitative", "scale": {"domain": [-3, 3], "nice": false}, "axis": {"orient": "left", "values": [-3,-2,-1,0,1,2,3], "labels": true, "title": "ωd/|J|", "titleFontStyle": "italic", "titlePadding": -5}},
     "y2": {"field": "w1"},
     "color": {"field": "v", "type": "ordinal", "scale": {"domain": [0,1,2,3,4,5,6,7,8], "range": ["#fff5e9","#fee6c8","#fdd09f","#fcb37d","#f98c5c","#ec5c3d","#d12e1c","#ad0a04","#990000"]}, "legend": null}}},
   {"mark": {"type": "point", "opacity": 0},
    "encoding": {
     "x": {"field": "s0", "type": "quantitative", "scale": {"domain": [-5, 15], "nice": false}, "axis": {"orient": "top", "values": [-4,-3,-2,-1,0,1,2,3,4,5,6,7,8,9,10,11,12,13,14], "title": null}},
     "y": {"field": "w0", "type": "quantitative", "scale": {"domain": [-3, 3], "nice": false}, "axis": {"orient": "right", "values": [-3,-2,-1,0,1,2,3], "title": null}}}}
  ],
  "resolve": {"axis": {"x": "independent", "y": "independent"}}},
 {"width": 384, "height": 341,
  "layer": [
   {"data": {"name": "d1"}, "mark": {"type": "rule", "strokeDash": [2, 2], "strokeWidth": 1.2},
    "encoding": {"y": {"field": "w", "type": "quantitative", "scale": {"domain": [-3, 3], "nice": false}, "axis": null},
     "color": {"field": "t", "type": "nominal", "scale": {"domain": ["a", "b"], "range": ["#1f1fff", "#111111"]}, "legend": null}}},
   {"data": {"name": "k1"}, "mark": {"type": "line", "color": "#444", "strokeWidth": 0.8, "clip": true},
    "encoding": {"x": {"field": "x", "type": "quantitative", "scale": {"type": "log", "domain": [0.001, 20], "nice": false}, "axis": {"orient": "bottom", "values": [0.01, 0.1, 1, 10], "title": null}},
     "y": {"field": "w", "type": "quantitative", "scale": {"domain": [-3, 3], "nice": false}, "axis": {"orient": "left", "values": [-3,-2,-1,0,1,2,3], "title": null}},
     "order": {"value": null}}},
   {"data": {"name": "k1"}, "mark": {"type": "point", "filled": false, "color": "#222", "strokeWidth": 0.8, "size": 20, "opacity": 1, "clip": true},
    "encoding": {"x": {"field": "x", "type": "quantitative", "scale": {"type": "log", "domain": [0.001, 20], "nice": false}, "axis": {"orient": "top", "values": [0.01, 0.1, 1, 10], "title": null}},
     "y": {"field": "w", "type": "quantitative", "scale": {"domain": [-3, 3], "nice": false}, "axis": {"orient": "right", "values": [-3,-2,-1,0,1,2,3], "title": null}}}},
   {"data": {"name": "r1"}, "mark": {"type": "line", "color": "#ff0000", "strokeWidth": 0.8, "clip": true},
    "encoding": {"x": {"field": "x", "type": "quantitative", "scale": {"type": "log", "domain": [0.001, 20], "nice": false}, "axis": {"orient": "bottom", "values": [0.03,0.05,0.07,0.09,0.3,0.5,0.7,0.9,3,5,7,9], "tickSize": -3.5, "title": null}},
     "y": {"field": "w", "type": "quantitative", "scale": {"domain": [-3, 3], "nice": false}, "axis": null},
     "order": {"value": null}}},
   {"data": {"name": "r1"}, "transform": [{"filter": "datum.b == 1"}], "mark": {"type": "line", "color": "#ff0000", "strokeWidth": 4, "interpolate": "catmull-rom", "clip": true},
    "encoding": {"x": {"field": "x", "type": "quantitative", "scale": {"type": "log", "domain": [0.001, 20], "nice": false}, "axis": {"orient": "top", "values": [0.03,0.05,0.07,0.09,0.3,0.5,0.7,0.9,3,5,7,9], "tickSize": -3.5, "title": null}},
     "y": {"field": "w", "type": "quantitative", "scale": {"domain": [-3, 3], "nice": false}, "axis": null},
     "order": {"value": null}}},
   {"data": {"name": "r1"}, "transform": [{"filter": "datum.b != 1"}], "mark": {"type": "point", "filled": true, "color": "#ff0000", "size": 16, "opacity": 1, "clip": true},
    "encoding": {"x": {"field": "x", "type": "quantitative", "scale": {"type": "log", "domain": [0.001, 20], "nice": false}, "axis": null},
     "y": {"field": "w", "type": "quantitative", "scale": {"domain": [-3, 3], "nice": false}, "axis": null}}},
   {"data": {"values": [{}]}, "mark": {"type": "text", "font": "Liberation Serif", "fontSize": 30, "align": "left", "baseline": "alphabetic", "clip": true},
    "encoding": {"x": {"datum": 0.73, "type": "quantitative", "scale": {"type": "log", "domain": [0.001, 20], "nice": false}, "axis": null},
     "y": {"datum": 2.35, "type": "quantitative", "scale": {"domain": [-3, 3], "nice": false}, "axis": null},
     "text": {"value": "U = 0"}}}
  ],
  "resolve": {"axis": {"x": "independent", "y": "independent"}}}
]},
{"spacing": 10, "bounds": "flush", "hconcat": [
 {"width": 384, "height": 341, "data": {"name": "h2"},
  "layer": [
   {"mark": {"type": "rect", "clip": true},
    "encoding": {
     "x": {"field": "s0", "type": "quantitative", "scale": {"domain": [-5, 15], "nice": false}, "axis": {"orient": "bottom", "values": [-4,-3,-2,-1,0,1,2,3,4,5,6,7,8,9,10,11,12,13,14], "title": null}},
     "x2": {"field": "s1"},
     "y": {"field": "w0", "type": "quantitative", "scale": {"domain": [-3, 3], "nice": false}, "axis": {"orient": "left", "values": [-3,-2,-1,0,1,2,3], "labels": true, "title": "ωd/|J|", "titleFontStyle": "italic", "titlePadding": -5}},
     "y2": {"field": "w1"},
     "color": {"field": "v", "type": "ordinal", "scale": {"domain": [0,1,2,3,4,5,6,7,8], "range": ["#fff5e9","#fee6c8","#fdd09f","#fcb37d","#f98c5c","#ec5c3d","#d12e1c","#ad0a04","#990000"]}, "legend": null}}},
   {"mark": {"type": "point", "opacity": 0},
    "encoding": {
     "x": {"field": "s0", "type": "quantitative", "scale": {"domain": [-5, 15], "nice": false}, "axis": {"orient": "top", "values": [-4,-3,-2,-1,0,1,2,3,4,5,6,7,8,9,10,11,12,13,14], "title": null}},
     "y": {"field": "w0", "type": "quantitative", "scale": {"domain": [-3, 3], "nice": false}, "axis": {"orient": "right", "values": [-3,-2,-1,0,1,2,3], "title": null}}}}
  ],
  "resolve": {"axis": {"x": "independent", "y": "independent"}}},
 {"width": 384, "height": 341,
  "layer": [
   {"data": {"name": "d2"}, "mark": {"type": "rule", "strokeDash": [2, 2], "strokeWidth": 1.2},
    "encoding": {"y": {"field": "w", "type": "quantitative", "scale": {"domain": [-3, 3], "nice": false}, "axis": null},
     "color": {"field": "t", "type": "nominal", "scale": {"domain": ["a", "b"], "range": ["#1f1fff", "#111111"]}, "legend": null}}},
   {"data": {"name": "k2"}, "mark": {"type": "line", "color": "#444", "strokeWidth": 0.8, "clip": true},
    "encoding": {"x": {"field": "x", "type": "quantitative", "scale": {"type": "log", "domain": [0.001, 20], "nice": false}, "axis": {"orient": "bottom", "values": [0.01, 0.1, 1, 10], "title": null}},
     "y": {"field": "w", "type": "quantitative", "scale": {"domain": [-3, 3], "nice": false}, "axis": {"orient": "left", "values": [-3,-2,-1,0,1,2,3], "title": null}},
     "order": {"value": null}}},
   {"data": {"name": "k2"}, "mark": {"type": "point", "filled": false, "color": "#222", "strokeWidth": 0.8, "size": 20, "opacity": 1, "clip": true},
    "encoding": {"x": {"field": "x", "type": "quantitative", "scale": {"type": "log", "domain": [0.001, 20], "nice": false}, "axis": {"orient": "top", "values": [0.01, 0.1, 1, 10], "title": null}},
     "y": {"field": "w", "type": "quantitative", "scale": {"domain": [-3, 3], "nice": false}, "axis": {"orient": "right", "values": [-3,-2,-1,0,1,2,3], "title": null}}}},
   {"data": {"name": "r2"}, "mark": {"type": "line", "color": "#ff0000", "strokeWidth": 0.8, "clip": true},
    "encoding": {"x": {"field": "x", "type": "quantitative", "scale": {"type": "log", "domain": [0.001, 20], "nice": false}, "axis": {"orient": "bottom", "values": [0.03,0.05,0.07,0.09,0.3,0.5,0.7,0.9,3,5,7,9], "tickSize": -3.5, "title": null}},
     "y": {"field": "w", "type": "quantitative", "scale": {"domain": [-3, 3], "nice": false}, "axis": null},
     "order": {"value": null}}},
   {"data": {"name": "r2"}, "transform": [{"filter": "datum.b == 1"}], "mark": {"type": "line", "color": "#ff0000", "strokeWidth": 4, "interpolate": "catmull-rom", "clip": true},
    "encoding": {"x": {"field": "x", "type": "quantitative", "scale": {"type": "log", "domain": [0.001, 20], "nice": false}, "axis": {"orient": "top", "values": [0.03,0.05,0.07,0.09,0.3,0.5,0.7,0.9,3,5,7,9], "tickSize": -3.5, "title": null}},
     "y": {"field": "w", "type": "quantitative", "scale": {"domain": [-3, 3], "nice": false}, "axis": null},
     "order": {"value": null}}},
   {"data": {"name": "r2"}, "transform": [{"filter": "datum.b != 1"}], "mark": {"type": "point", "filled": true, "color": "#ff0000", "size": 16, "opacity": 1, "clip": true},
    "encoding": {"x": {"field": "x", "type": "quantitative", "scale": {"type": "log", "domain": [0.001, 20], "nice": false}, "axis": null},
     "y": {"field": "w", "type": "quantitative", "scale": {"domain": [-3, 3], "nice": false}, "axis": null}}},
   {"data": {"values": [{}]}, "mark": {"type": "text", "font": "Liberation Serif", "fontSize": 30, "align": "left", "baseline": "alphabetic", "clip": true},
    "encoding": {"x": {"datum": 0.73, "type": "quantitative", "scale": {"type": "log", "domain": [0.001, 20], "nice": false}, "axis": null},
     "y": {"datum": 2.35, "type": "quantitative", "scale": {"domain": [-3, 3], "nice": false}, "axis": null},
     "text": {"value": "U = 0.1|J|"}}}
  ],
  "resolve": {"axis": {"x": "independent", "y": "independent"}}}
]},
{"spacing": 10, "bounds": "flush", "hconcat": [
 {"width": 384, "height": 341, "data": {"name": "h3"},
  "layer": [
   {"mark": {"type": "rect", "clip": true},
    "encoding": {
     "x": {"field": "s0", "type": "quantitative", "scale": {"domain": [-5, 15], "nice": false}, "axis": {"orient": "bottom", "values": [-4,-3,-2,-1,0,1,2,3,4,5,6,7,8,9,10,11,12,13,14], "title": null}},
     "x2": {"field": "s1"},
     "y": {"field": "w0", "type": "quantitative", "scale": {"domain": [-3, 3], "nice": false}, "axis": {"orient": "left", "values": [-3,-2,-1,0,1,2,3], "labels": true, "title": "ωd/|J|", "titleFontStyle": "italic", "titlePadding": -5}},
     "y2": {"field": "w1"},
     "color": {"field": "v", "type": "ordinal", "scale": {"domain": [0,1,2,3,4,5,6,7,8], "range": ["#fff5e9","#fee6c8","#fdd09f","#fcb37d","#f98c5c","#ec5c3d","#d12e1c","#ad0a04","#990000"]}, "legend": null}}},
   {"mark": {"type": "point", "opacity": 0},
    "encoding": {
     "x": {"field": "s0", "type": "quantitative", "scale": {"domain": [-5, 15], "nice": false}, "axis": {"orient": "top", "values": [-4,-3,-2,-1,0,1,2,3,4,5,6,7,8,9,10,11,12,13,14], "title": null}},
     "y": {"field": "w0", "type": "quantitative", "scale": {"domain": [-3, 3], "nice": false}, "axis": {"orient": "right", "values": [-3,-2,-1,0,1,2,3], "title": null}}}}
  ],
  "resolve": {"axis": {"x": "independent", "y": "independent"}}},
 {"width": 384, "height": 341,
  "layer": [
   {"data": {"name": "d3"}, "mark": {"type": "rule", "strokeDash": [2, 2], "strokeWidth": 1.2},
    "encoding": {"y": {"field": "w", "type": "quantitative", "scale": {"domain": [-3, 3], "nice": false}, "axis": null},
     "color": {"field": "t", "type": "nominal", "scale": {"domain": ["a", "b"], "range": ["#1f1fff", "#111111"]}, "legend": null}}},
   {"data": {"name": "k3"}, "mark": {"type": "line", "color": "#444", "strokeWidth": 0.8, "clip": true},
    "encoding": {"x": {"field": "x", "type": "quantitative", "scale": {"type": "log", "domain": [0.001, 20], "nice": false}, "axis": {"orient": "bottom", "values": [0.01, 0.1, 1, 10], "title": null}},
     "y": {"field": "w", "type": "quantitative", "scale": {"domain": [-3, 3], "nice": false}, "axis": {"orient": "left", "values": [-3,-2,-1,0,1,2,3], "title": null}},
     "order": {"value": null}}},
   {"data": {"name": "k3"}, "mark": {"type": "point", "filled": false, "color": "#222", "strokeWidth": 0.8, "size": 20, "opacity": 1, "clip": true},
    "encoding": {"x": {"field": "x", "type": "quantitative", "scale": {"type": "log", "domain": [0.001, 20], "nice": false}, "axis": {"orient": "top", "values": [0.01, 0.1, 1, 10], "title": null}},
     "y": {"field": "w", "type": "quantitative", "scale": {"domain": [-3, 3], "nice": false}, "axis": {"orient": "right", "values": [-3,-2,-1,0,1,2,3], "title": null}}}},
   {"data": {"name": "r3"}, "mark": {"type": "line", "color": "#ff0000", "strokeWidth": 0.8, "clip": true},
    "encoding": {"x": {"field": "x", "type": "quantitative", "scale": {"type": "log", "domain": [0.001, 20], "nice": false}, "axis": {"orient": "bottom", "values": [0.03,0.05,0.07,0.09,0.3,0.5,0.7,0.9,3,5,7,9], "tickSize": -3.5, "title": null}},
     "y": {"field": "w", "type": "quantitative", "scale": {"domain": [-3, 3], "nice": false}, "axis": null},
     "order": {"value": null}}},
   {"data": {"name": "r3"}, "transform": [{"filter": "datum.b == 1"}], "mark": {"type": "line", "color": "#ff0000", "strokeWidth": 4, "interpolate": "catmull-rom", "clip": true},
    "encoding": {"x": {"field": "x", "type": "quantitative", "scale": {"type": "log", "domain": [0.001, 20], "nice": false}, "axis": {"orient": "top", "values": [0.03,0.05,0.07,0.09,0.3,0.5,0.7,0.9,3,5,7,9], "tickSize": -3.5, "title": null}},
     "y": {"field": "w", "type": "quantitative", "scale": {"domain": [-3, 3], "nice": false}, "axis": null},
     "order": {"value": null}}},
   {"data": {"name": "r3"}, "transform": [{"filter": "datum.b != 1"}], "mark": {"type": "point", "filled": true, "color": "#ff0000", "size": 16, "opacity": 1, "clip": true},
    "encoding": {"x": {"field": "x", "type": "quantitative", "scale": {"type": "log", "domain": [0.001, 20], "nice": false}, "axis": null},
     "y": {"field": "w", "type": "quantitative", "scale": {"domain": [-3, 3], "nice": false}, "axis": null}}},
   {"data": {"values": [{}]}, "mark": {"type": "text", "font": "Liberation Serif", "fontSize": 30, "align": "left", "baseline": "alphabetic", "clip": true},
    "encoding": {"x": {"datum": 0.73, "type": "quantitative", "scale": {"type": "log", "domain": [0.001, 20], "nice": false}, "axis": null},
     "y": {"datum": 2.35, "type": "quantitative", "scale": {"domain": [-3, 3], "nice": false}, "axis": null},
     "text": {"value": "U = 0.2|J|"}}}
  ],
  "resolve": {"axis": {"x": "independent", "y": "independent"}}}
]},
{"spacing": 10, "bounds": "flush", "hconcat": [
 {"width": 384, "height": 341, "data": {"name": "h4"},
  "layer": [
   {"mark": {"type": "rect", "clip": true},
    "encoding": {
     "x": {"field": "s0", "type": "quantitative", "scale": {"domain": [-5, 15], "nice": false}, "axis": {"orient": "bottom", "values": [-4,-3,-2,-1,0,1,2,3,4,5,6,7,8,9,10,11,12,13,14], "labels": true, "labelExpr": "datum.value % 2 === 0 ? datum.label : ''", "title": "sites", "titlePadding": 2}},
     "x2": {"field": "s1"},
     "y": {"field": "w0", "type": "quantitative", "scale": {"domain": [-3, 3], "nice": false}, "axis": {"orient": "left", "values": [-3,-2,-1,0,1,2,3], "labels": true, "title": "ωd/|J|", "titleFontStyle": "italic", "titlePadding": -5}},
     "y2": {"field": "w1"},
     "color": {"field": "v", "type": "ordinal", "scale": {"domain": [0,1,2,3,4,5,6,7,8], "range": ["#fff5e9","#fee6c8","#fdd09f","#fcb37d","#f98c5c","#ec5c3d","#d12e1c","#ad0a04","#990000"]}, "legend": null}}},
   {"mark": {"type": "point", "opacity": 0},
    "encoding": {
     "x": {"field": "s0", "type": "quantitative", "scale": {"domain": [-5, 15], "nice": false}, "axis": {"orient": "top", "values": [-4,-3,-2,-1,0,1,2,3,4,5,6,7,8,9,10,11,12,13,14], "title": null}},
     "y": {"field": "w0", "type": "quantitative", "scale": {"domain": [-3, 3], "nice": false}, "axis": {"orient": "right", "values": [-3,-2,-1,0,1,2,3], "title": null}}}},
   {"data": {"values": [{"s": 0}, {"s": 10}]}, "mark": {"type": "rule", "color": "#000", "strokeWidth": 1},
    "encoding": {"x": {"field": "s", "type": "quantitative", "scale": {"domain": [-5, 15], "nice": false}, "axis": null},
     "y": {"datum": -2.3, "type": "quantitative", "scale": {"domain": [-3, 3], "nice": false}, "axis": null},
     "y2": {"datum": -2.74}}},
   {"data": {"values": [{"s": 0}, {"s": 10}]}, "mark": {"type": "point", "shape": "triangle-down", "filled": true, "color": "#000", "size": 45, "opacity": 1},
    "encoding": {"x": {"field": "s", "type": "quantitative", "scale": {"domain": [-5, 15], "nice": false}, "axis": null},
     "y": {"datum": -2.74, "type": "quantitative", "scale": {"domain": [-3, 3], "nice": false}, "axis": null}}}
  ],
  "resolve": {"axis": {"x": "independent", "y": "independent"}}},
 {"width": 384, "height": 341,
  "layer": [
   {"data": {"name": "d4"}, "mark": {"type": "rule", "strokeDash": [2, 2], "strokeWidth": 1.2},
    "encoding": {"y": {"field": "w", "type": "quantitative", "scale": {"domain": [-3, 3], "nice": false}, "axis": null},
     "color": {"field": "t", "type": "nominal", "scale": {"domain": ["a", "b"], "range": ["#1f1fff", "#111111"]}, "legend": null}}},
   {"data": {"name": "k4"}, "mark": {"type": "line", "color": "#444", "strokeWidth": 0.8, "clip": true},
    "encoding": {"x": {"field": "x", "type": "quantitative", "scale": {"type": "log", "domain": [0.001, 20], "nice": false}, "axis": {"orient": "bottom", "values": [0.01, 0.1, 1, 10], "labels": true, "format": "~g", "title": "|φ̄ⱼ|²/|F₀/J|²", "titlePadding": 0}},
     "y": {"field": "w", "type": "quantitative", "scale": {"domain": [-3, 3], "nice": false}, "axis": {"orient": "left", "values": [-3,-2,-1,0,1,2,3], "title": null}},
     "order": {"value": null}}},
   {"data": {"name": "k4"}, "mark": {"type": "point", "filled": false, "color": "#222", "strokeWidth": 0.8, "size": 20, "opacity": 1, "clip": true},
    "encoding": {"x": {"field": "x", "type": "quantitative", "scale": {"type": "log", "domain": [0.001, 20], "nice": false}, "axis": {"orient": "top", "values": [0.01, 0.1, 1, 10], "title": null}},
     "y": {"field": "w", "type": "quantitative", "scale": {"domain": [-3, 3], "nice": false}, "axis": {"orient": "right", "values": [-3,-2,-1,0,1,2,3], "title": null}}}},
   {"data": {"name": "r4"}, "mark": {"type": "line", "color": "#ff0000", "strokeWidth": 0.8, "clip": true},
    "encoding": {"x": {"field": "x", "type": "quantitative", "scale": {"type": "log", "domain": [0.001, 20], "nice": false}, "axis": {"orient": "bottom", "values": [0.03,0.05,0.07,0.09,0.3,0.5,0.7,0.9,3,5,7,9], "tickSize": -3.5, "title": null}},
     "y": {"field": "w", "type": "quantitative", "scale": {"domain": [-3, 3], "nice": false}, "axis": null},
     "order": {"value": null}}},
   {"data": {"name": "r4"}, "transform": [{"filter": "datum.b == 1"}], "mark": {"type": "line", "color": "#ff0000", "strokeWidth": 4, "interpolate": "catmull-rom", "clip": true},
    "encoding": {"x": {"field": "x", "type": "quantitative", "scale": {"type": "log", "domain": [0.001, 20], "nice": false}, "axis": {"orient": "top", "values": [0.03,0.05,0.07,0.09,0.3,0.5,0.7,0.9,3,5,7,9], "tickSize": -3.5, "title": null}},
     "y": {"field": "w", "type": "quantitative", "scale": {"domain": [-3, 3], "nice": false}, "axis": null},
     "order": {"value": null}}},
   {"data": {"name": "r4"}, "transform": [{"filter": "datum.b != 1"}], "mark": {"type": "point", "filled": true, "color": "#ff0000", "size": 16, "opacity": 1, "clip": true},
    "encoding": {"x": {"field": "x", "type": "quantitative", "scale": {"type": "log", "domain": [0.001, 20], "nice": false}, "axis": null},
     "y": {"field": "w", "type": "quantitative", "scale": {"domain": [-3, 3], "nice": false}, "axis": null}}},
   {"data": {"values": [{}]}, "mark": {"type": "text", "font": "Liberation Serif", "fontSize": 30, "align": "left", "baseline": "alphabetic", "clip": true},
    "encoding": {"x": {"datum": 0.73, "type": "quantitative", "scale": {"type": "log", "domain": [0.001, 20], "nice": false}, "axis": null},
     "y": {"datum": 2.35, "type": "quantitative", "scale": {"domain": [-3, 3], "nice": false}, "axis": null},
     "text": {"value": "U = 0.5|J|"}}}
  ],
  "resolve": {"axis": {"x": "independent", "y": "independent"}}}
]}
]
}
